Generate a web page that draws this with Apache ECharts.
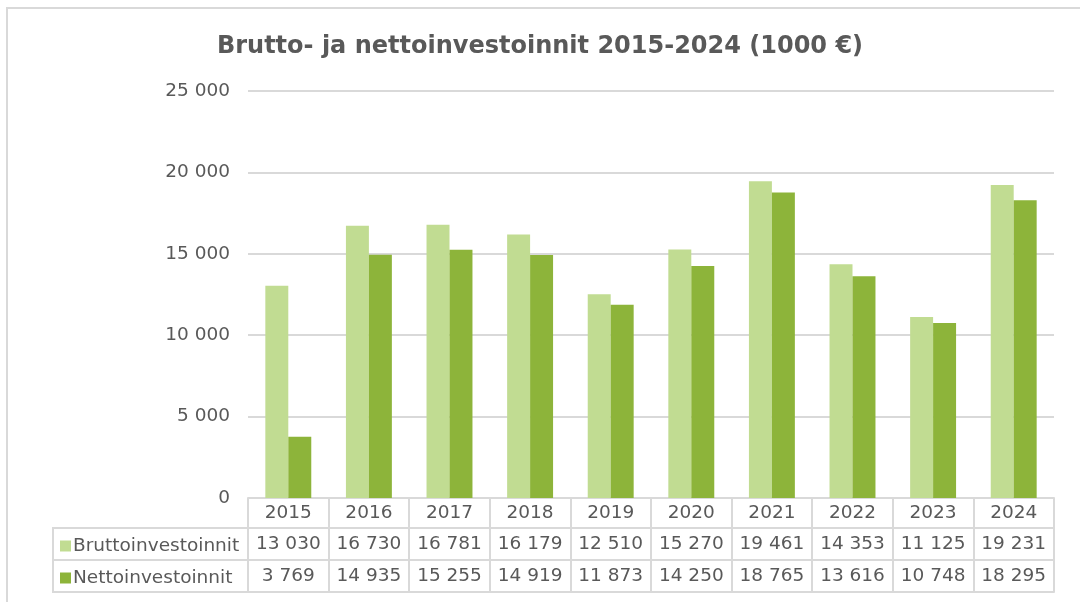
<!DOCTYPE html>
<html>
<head>
<meta charset="utf-8">
<script src="https://cdn.jsdelivr.net/npm/echarts@6/dist/echarts.min.js"></script>
<style>
    html, body {margin: 0; padding: 0; background: #fff;}
    #chart {width: 1080px; height: 602px;}
</style>
</head>
<body>
<div id="chart"></div>
<script>
//data
var years = ['2015', '2016', '2017', '2018', '2019', '2020', '2021', '2022', '2023', '2024'];
var brutto = [13030, 16730, 16781, 16179, 12510, 15270, 19461, 14353, 11125, 19231];
var netto = [3769, 14935, 15255, 14919, 11873, 14250, 18765, 13616, 10748, 18295];
var seriesNames = ['Bruttoinvestoinnit', 'Nettoinvestoinnit'];
var colors = ['#c1dc92', '#8db43a'];

var textColor = '#595959';
var lineColor = '#d9d9d9';
var font = 'DejaVu Sans';
var fontSize = 18.5;

//space as thousands separator
function fmt(v) {
    return String(v).replace(/\B(?=(\d{3})+(?!\d))/g, ' ');
}

//one category axis per table row
function tableAxis(offset, values) {
    return {
        type: 'category',
        data: years,
        position: 'bottom',
        offset: offset,
        axisLine: {show: true, lineStyle: {color: lineColor, width: 2}},
        axisTick: {show: false},
        axisLabel: {
            show: !!values,
            interval: 0,
            hideOverlap: false,
            margin: 7,
            color: textColor,
            fontFamily: font,
            fontSize: fontSize,
            formatter: function (val, idx) {
                return values ? fmt(values[idx]) : '';
            }
        }
    };
}

var chart = echarts.init(document.getElementById('chart'));
chart.setOption({
    animation: false,
    title: {
        text: 'Brutto- ja nettoinvestoinnit 2015-2024 (1000 €)',
        left: 'center',
        top: 30,
        textStyle: {color: textColor, fontFamily: font, fontWeight: 'bold', fontSize: 24}
    },
    legend: {
        orient: 'vertical',
        left: 55,
        top: 530,
        itemWidth: 11,
        itemHeight: 11,
        itemGap: 10,
        icon: 'rect',
        data: seriesNames,
        textStyle: {color: textColor, fontFamily: font, fontSize: fontSize, lineHeight: 22, padding: [0, 0, 0, -3]}
    },
    grid: {left: 248, right: 26, top: 91, bottom: 104},
    xAxis: [
        {
            type: 'category',
            data: years,
            axisLine: {show: true, lineStyle: {color: lineColor, width: 2}},
            axisTick: {show: true, length: 94, lineStyle: {color: lineColor, width: 2}},
            axisLabel: {interval: 0, margin: 6, color: textColor, fontFamily: font, fontSize: fontSize}
        },
        tableAxis(30, brutto),
        tableAxis(62, netto),
        tableAxis(94, null)
    ],
    yAxis: {
        type: 'value',
        min: 0,
        max: 25000,
        interval: 5000,
        axisLine: {show: false},
        axisTick: {show: false},
        splitLine: {lineStyle: {color: lineColor, width: 2}},
        axisLabel: {
            margin: 18,
            color: textColor,
            fontFamily: font,
            fontSize: fontSize,
            formatter: fmt
        }
    },
    series: [
        {
            name: seriesNames[0],
            type: 'bar',
            data: brutto,
            barGap: '0%',
            barCategoryGap: '43%',
            itemStyle: {color: colors[0]}
        },
        {
            name: seriesNames[1],
            type: 'bar',
            data: netto,
            itemStyle: {color: colors[1]}
        }
    ],
    graphic: [
        //outer frame
        {type: 'rect', shape: {x: 7, y: 8, width: 1100, height: 620}, style: {fill: 'none', stroke: lineColor, lineWidth: 2}, silent: true},
        //legend column of the table
        {type: 'polyline', shape: {points: [[248, 528], [53, 528], [53, 592], [248, 592]]}, style: {fill: 'none', stroke: lineColor, lineWidth: 2}},
        {type: 'line', shape: {x1: 53, y1: 560, x2: 248, y2: 560}, style: {stroke: lineColor, lineWidth: 2}}
    ]
});
</script>
</body>
</html>
